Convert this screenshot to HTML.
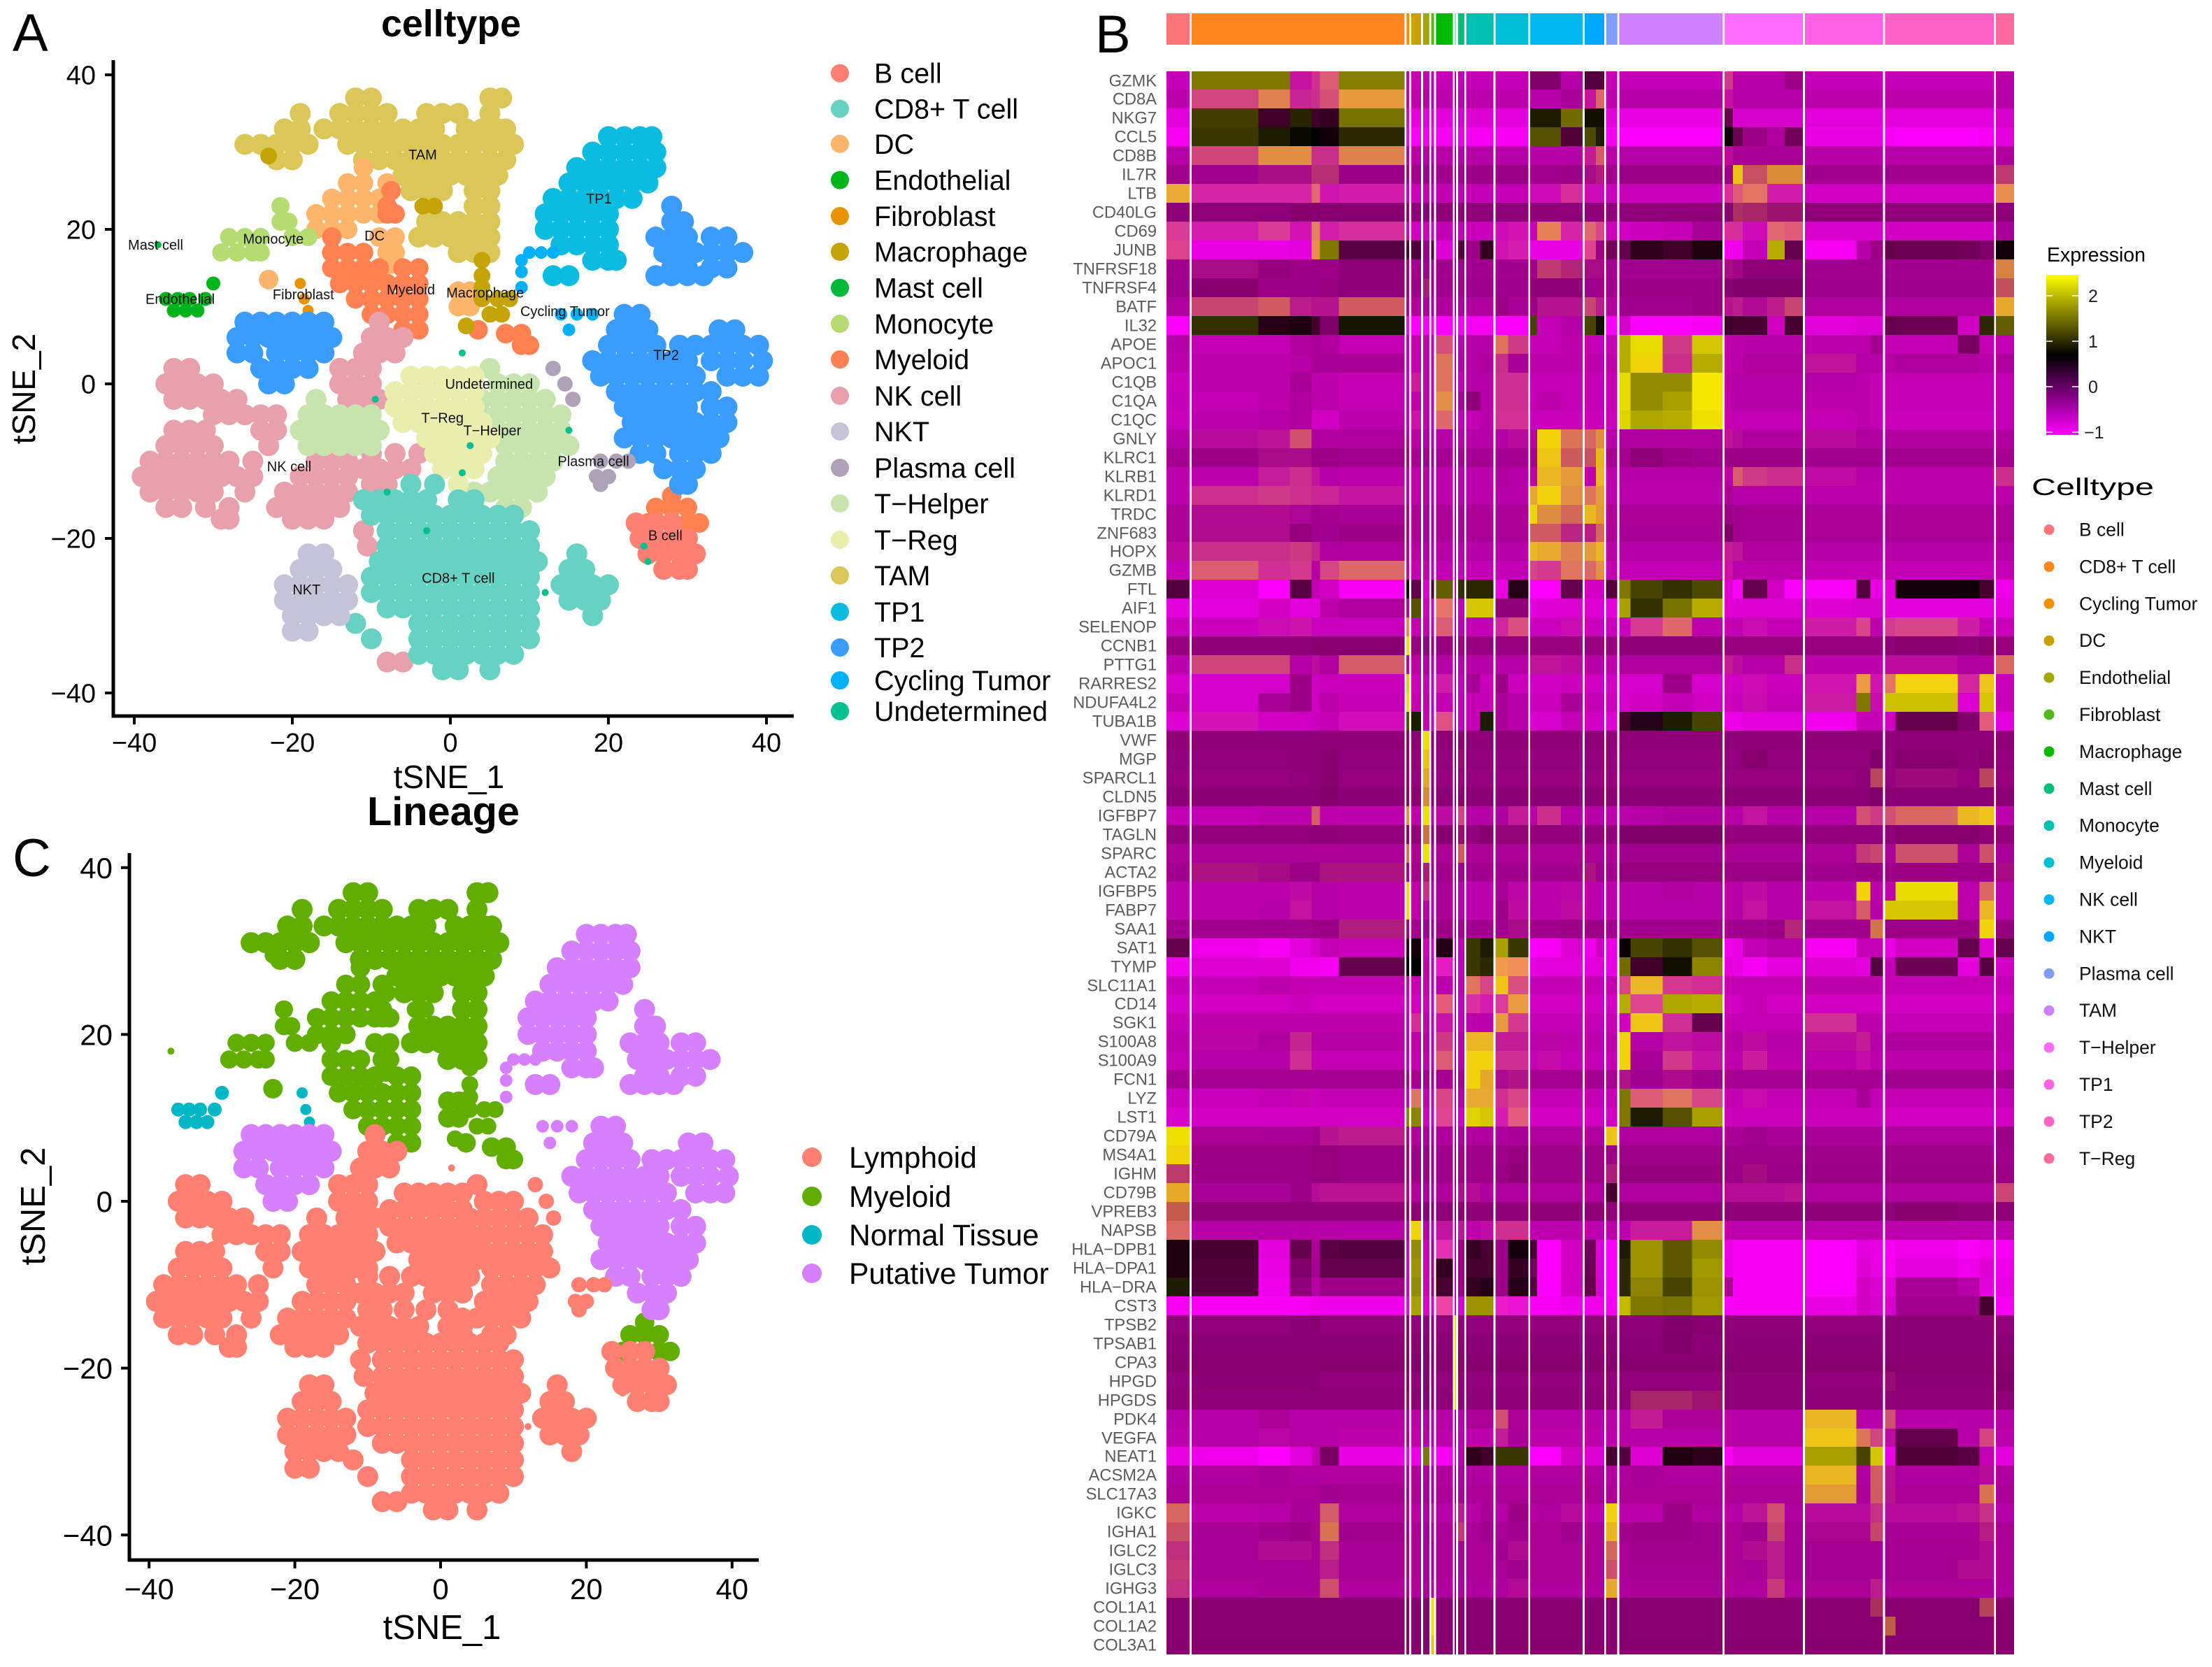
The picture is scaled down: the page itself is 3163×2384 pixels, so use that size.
<!DOCTYPE html>
<html lang="en">
<head>
<meta charset="utf-8">
<title>tSNE cell types, lineage and marker heatmap</title>
<style>
html,body{margin:0;padding:0;background:#fff}
svg{display:block}
text{font-family:"Liberation Sans",Arial,sans-serif}
</style>
</head>
<body>
<svg id="figure" xmlns="http://www.w3.org/2000/svg" width="3163" height="2384" viewBox="0 0 3163 2384">
<rect width="3163" height="2384" fill="#fff"/>
<text x="18" y="73" font-size="76">A</text>
<text x="1566" y="75" font-size="76">B</text>
<text x="18" y="1253" font-size="76">C</text>
<text x="645" y="52" font-size="53.7" font-weight="700" text-anchor="middle">celltype</text>
<text x="634" y="1180" font-size="57.7" font-weight="700" text-anchor="middle">Lineage</text>
<text x="642" y="1127" font-size="46" text-anchor="middle">tSNE_1</text>
<text transform="translate(50,556) rotate(-90)" font-size="46" text-anchor="middle">tSNE_2</text>
<text x="632" y="2344" font-size="49" text-anchor="middle">tSNE_1</text>
<text transform="translate(64,1725) rotate(-90)" font-size="49" text-anchor="middle">tSNE_2</text>
<text x="2927" y="374" font-size="28.5">Expression</text>
<defs>
<linearGradient id="exprGradient" x1="0" y1="0" x2="0" y2="1">
<stop offset="0" stop-color="#ffff00"/><stop offset="0.5" stop-color="#000000"/><stop offset="1" stop-color="#ff00ff"/>
</linearGradient>
</defs>
<rect x="2926" y="393" width="46" height="229" fill="url(#exprGradient)"/>
<text x="2905" y="708" font-size="34" textLength="175" lengthAdjust="spacingAndGlyphs">Celltype</text>
<g id="layer-a"></g>
<g id="layer-c"></g>
<g id="layer-hm"></g>
<g id="layer-axes"></g>
</svg>
<script>
/* ---------- tSNE data: each row is [tSNE_2, tSNE_1, tSNE_1, ...] ---------- */
const tamPoints=[[37,-12,-10,5,6.5],[35,-19,-14,-12,-10,-8,-3,-1,1,5],[33,-21,-19,-16,-14,-12,-10,-8,-6,-4,-2,2,4,6,7],[31,-26,-24,-22,-20,-18,-13,-11,-9,-7,-5,-3,-1,1,3,5,7,8],[29,-22,-20,-11,-9,-7,-5,-3,-1,1,3,5,7],[27,-6,-4,-2,0,2,4,6],[25,-5,-3,-1,3,5],[23,3,5],[21,-3,-1,1,3,5],[19,-4,-2,0,2,4,5],[17,1,3,5]];
const dcPoints=[[28,-11],[26,-13,-11,-8],[24,-15,-13,-11,-9],[22,-17,-15,-13,-11,-9],[20,-17,-15,-13],[19,-9,-7],[17,-8,-7],[15.5,-7.5],[13.5,-23],[12,1,2.5],[10,1,2.5]];
const myeloidPoints=[[25,-7.5],[23,-8],[22,-8,-7],[19,-15],[17,-15,-13,-11],[15,-15,-13,-11,-9,-6,-4],[13,-14,-12,-10,-8,-6,-4],[11,-12,-10,-8,-6,-4],[9,-10,-8,-6,-4],[7,-6,-4,3.5],[6.5,7,9],[5,9,10],[-14.5,28],[-16,26,28,30],[-18,25,30,31.5]];
const macrophagePoints=[[29.5,-23],[23,-3.5,-2],[16,4],[14,4],[12.5,4],[11,4,6,7.5],[9,5,6.5],[7.5,2]];
const monocytePoints=[[23,-21.5],[21,-21.5,-20.5],[19,-28,-26,-24,-20,-18],[17,-29,-27,-25,-24]];
const mastPoints=[[18,-37]];
const endothelialPoints=[[13,-30],[11,-36,-34.5,-33,-31],[9.5,-35,-33.5,-32]];
const fibroblastPoints=[[13,-19],[11,-18.5],[9.5,-18]];
const tp1Points=[[32,20,22,24,25.5],[30,18,20,22,24,26],[28,16,18,20,22,24,26],[26,15,17,19,21,23,25],[24,13,15,17,19,21,23],[22,12,14,16,18,20],[20,12,14,16,18,20],[18,14,16,18,20],[16,18,20,21],[14,13,15]];
const cyclingPoints=[[17,10,11.5,13],[16,9],[14.5,9],[12.5,9],[9,14,16,18],[7,15]];
const tp2Points=[[23,28],[21,28,29.5],[19,26,28,30,33,35],[17,27,29,31,33,35,37],[15,28,30,33,35],[14,26,28,30,32],[9,22,24],[7,21,23,25,34,36],[5,20,22,24,26,29,31,33,35,37,39],[3,18,20,22,24,26,28,30,33,35,37,39.5],[1,19,21,23,25,27,29,31,35,37,39],[-1,21,23,25,27,29,31,33],[-3,22,24,26,28,30,33,35],[-5,23,25,27,29,31,33,35],[-7,22,24,26,28,30,32,34],[-9,24,26,29,31,33],[-11,27,29,31],[-13,29,30]];
const tp2LeftPoints=[[8,-26,-24,-22,-20,-18,-16],[6,-27,-25,-23,-21,-19,-17,-15],[4,-27,-25,-22,-20,-18,-16],[2,-24,-22,-20,-18],[0,-23,-21]];
const nkPoints=[[8,-9],[6,-10,-8,-6],[4,-11,-9,-7],[2,-35,-33,-14,-12,-10],[0,-36,-34,-32,-30,-14,-12,-10],[-2,-35,-33,-31,-29,-27,-13,-11,-9],[-4,-30,-28,-26,-24,-22],[-6,-35,-33,-31,-24,-22],[-8,-36,-34,-32,-30,-23],[-9,-10,-7,-4],[-10,-38,-36,-34,-32,-30,-28,-25,-17,-15,-13],[-11,-11,-9,-7,-5],[-12,-39,-37,-35,-33,-31,-29,-27,-25,-19,-17,-15,-13],[-13,-10,-8],[-14,-38,-36,-34,-32,-30,-26,-21,-19,-17,-15,-13],[-16,-36,-34,-31,-28,-22,-20,-18,-16,-14],[-17.5,-29,-28,-20,-18,-16],[-19,-11],[-21,-10.5],[-36,-8,-6]];
const plasmaPoints=[[2,13],[0,14.5],[-2,15.5],[-10,19,21,22.5],[-12,18.5,20],[-13,19]];
const helperPoints=[[2,5],[0,-3,-1,6,8,10],[-2,-17,4,6,8,10,12],[-4,-18,-16,-14,-12,-10,4,6,8,10,12,14],[-6,-19,-17,-15,-13,-11,-9,6,8,10,12,14],[-8,-18,-16,-14,-12,-10,7,9,11,13,15],[-10,7,9,11,13],[-12,6,8,10,12],[-14,3,5,7,9,11],[-16,3,7,9]];
const tregPoints=[[1,-5,-3,-1,1,3],[-1,-7,-5,-3,-1,1,3],[-3,-7,-5,-3,-1,1,3],[-5,-6,-4,-2,0,2,4],[-7,-3,-1,1,3,5],[-9,-2,0,2,4],[-11,-1,1,3],[-13,1]];
const cd8Points=[[-13,-5,-2],[-15,-11,-9,-7,-5,-3,1,3],[-17,-10,-8,-6,-4,-2,0,2,4,6,8],[-19,-8,-6,-4,-2,0,2,4,6,8,10],[-21,-8,-6,-4,-2,0,2,4,6,8,10],[-22,16],[-23,-9,-7,-5,-3,-1,1,3,5,7,9,11],[-24,15,17],[-25,-10,-8,-6,-4,-2,0,2,4,6,8,10],[-26,14,16,18,20],[-27,-10,-8,-6,-4,-2,0,2,4,6,8,10],[-28,15,17,19],[-29,-8,-6,-4,-2,0,2,4,6,8,10],[-30,18],[-31,-12,-4,-2,0,2,4,6,8,10],[-33,-10,-4,-2,0,2,4,6,8,10],[-35,-4,-2,0,2,4,6,8],[-37,-1,1,5]];
const nktPoints=[[-22,-18,-16],[-24,-19,-17,-15],[-26,-21,-19,-17,-15,-13],[-28,-21,-19,-17,-15,-13],[-30,-20,-18,-16,-14],[-32,-20,-18]];
const bcellPoints=[[-18,23.5,26,28],[-20,24,26,28,30],[-22,25,27,29,31],[-24,27,29,30]];
const undeterminedPoints=[[4,1.5],[-2,-9.5],[-8,2.5],[-11.5,1.5],[-6,15],[-21,24.5],[-23,25],[-19,-3],[-27,12],[-14,-8]];

/* ---------- plotted series, labels and legends ---------- */
const scatterClusters=["TAM","DC","Myeloid","Macrophage","Monocyte","Mast cell","Endothelial","Fibroblast","TP1","Cycling Tumor","TP2","TP2","NK cell","Plasma cell","T-Helper","T-Reg","CD8+ T cell","NKT","B cell","Undetermined"];
const scatterPoints=[tamPoints,dcPoints,myeloidPoints,macrophagePoints,monocytePoints,mastPoints,endothelialPoints,fibroblastPoints,tp1Points,cyclingPoints,tp2Points,tp2LeftPoints,nkPoints,plasmaPoints,helperPoints,tregPoints,cd8Points,nktPoints,bcellPoints,undeterminedPoints];
const axisTicks=[-40,-20,0,20,40];
const celltypeLegend=["B cell","CD8+ T cell","DC","Endothelial","Fibroblast","Macrophage","Mast cell","Monocyte","Myeloid","NK cell","NKT","Plasma cell","T\u2212Helper","T\u2212Reg","TAM","TP1","TP2","Cycling Tumor","Undetermined"];
const lineageLegend=["Lymphoid","Myeloid","Normal Tissue","Putative Tumor"];
const clusterLabels=["TAM","TP1","Mast cell","Monocyte","DC","Endothelial","Fibroblast","Myeloid","Macrophage","Cycling Tumor","TP2","Undetermined","T\u2212Reg","T\u2212Helper","Plasma cell","NK cell","B cell","CD8+ T cell","NKT"];
const clusterLabelX=[-3.5,18.8,-37.3,-22.4,-9.6,-34.2,-18.6,-5,4.4,14.5,27.3,4.9,-1,5.3,18.1,-20.4,27.2,1,-18.2];
const clusterLabelY=[29.7,24,18,18.8,19.2,11,11.6,12.2,11.8,9.4,3.75,0,-4.4,-6,-10,-10.7,-19.6,-25.1,-26.6];

/* ---------- heatmap data ---------- */
const genes=["GZMK","CD8A","NKG7","CCL5","CD8B","IL7R","LTB","CD40LG","CD69","JUNB","TNFRSF18","TNFRSF4","BATF","IL32","APOE","APOC1","C1QB","C1QA","C1QC","GNLY","KLRC1","KLRB1","KLRD1","TRDC","ZNF683","HOPX","GZMB","FTL","AIF1","SELENOP","CCNB1","PTTG1","RARRES2","NDUFA4L2","TUBA1B","VWF","MGP","SPARCL1","CLDN5","IGFBP7","TAGLN","SPARC","ACTA2","IGFBP5","FABP7","SAA1","SAT1","TYMP","SLC11A1","CD14","SGK1","S100A8","S100A9","FCN1","LYZ","LST1","CD79A","MS4A1","IGHM","CD79B","VPREB3","NAPSB","HLA\u2212DPB1","HLA\u2212DPA1","HLA\u2212DRA","CST3","TPSB2","TPSAB1","CPA3","HPGD","HPGDS","PDK4","VEGFA","NEAT1","ACSM2A","SLC17A3","IGKC","IGHA1","IGLC2","IGLC3","IGHG3","COL1A1","COL1A2","COL3A1"];
/* cells per sub-column, and the annotation group each sub-column belongs to */
const columnCells=[33, 96,45,31,12,27,94, 4,14,9,4,24,2,9, 20,19,18,29, 10,34,31,16,12,16, 16,46,42,44, 12,14,35,25,26, 74,20,18, 15,89,31,21, 26];
const columnGroup=[0, 1,1,1,1,1,1, 2,3,4,5,6,7,8, 9,9,10,10, 11,11,11,12,12,13, 14,14,14,14, 15,15,15,15,15, 16,16,16, 17,17,17,17, 18];
const groupNames=["B cell","CD8+ T cell","Cycling Tumor","DC","Endothelial","Fibroblast","Macrophage","Mast cell minor","Mast cell","Monocyte","Myeloid","NK cell","NKT","Plasma cell","TAM","T-Helper","TP1","TP2","T-Reg"];
/* z-scores on the legend scale; a value v >= 3 is a sparse column: share (v-3) of its cells at top expression */
const expression=[
[-.62, 1.6,1.6,3.15,3.3,3.5,1.65, -.62,-.62,-.62,-.62,-.62,-.62,-.62, -.62,-.62,-.62,-.62, -.1,-.1,-.5,.2,.2,-.62, -.62,-.62,-.62,-.62, 3.35,-.5,-.5,-.5,-.3, -.62,-.62,-.62, -.62,-.62,-.62,-.62, -.5],
[-.55, 3.4,3.65,3.25,3.3,3.45,3.75, -.55,-.55,-.55,-.55,-.55,-.55,-.55, -.55,-.55,-.55,-.55, -.5,-.5,-.4,3.15,3.55,-.55, -.5,-.5,-.5,-.5, 3.15,-.5,-.5,-.5,-.5, -.55,-.55,-.55, -.55,-.55,-.55,-.55, -.5],
[-.85, 1.15,.35,.95,.35,.4,1.55, -.85,-.85,-.85,-.85,-.85,-.85,-.8, -.8,-.8,-.85,-.85, .9,.9,1.5,.8,.8,-.85, -.9,-.9,-.9,-.9, .1,-.75,-.75,-.75,-.75, -.85,-.85,-.85, -.85,-.85,-.85,-.85, -.75],
[-1, 1.1,.9,.75,.7,.6,1, -1,-1,-1,-1,-1,-1,-.95, -1,-1,-1,-1, 1.3,1.3,.25,1.25,.9,-1, -1.05,-1.05,-1.05,-1.05, .65,.05,-.3,-.45,0, -.9,-.9,-.9, -1,-1.05,-1.05,-1, -.85],
[-.5, 3.4,3.7,3.7,3.3,3.3,3.65, -.5,-.5,-.5,-.5,-.5,-.5,-.5, -.5,-.5,-.5,-.5, -.5,-.5,-.5,3.2,3.5,-.5, -.5,-.5,-.5,-.5, 3.1,-.4,-.4,-.4,-.4, -.5,-.5,-.5, -.5,-.5,-.5,-.5, -.45],
[-.35, -.35,3.12,3.12,3.3,3.3,-.3, -.35,-.35,-.35,-.35,-.35,-.35,-.35, -.3,-.3,-.3,-.3, -.35,-.35,-.3,3.1,3.2,-.35, -.3,-.3,-.3,-.3, -.3,3.9,3.45,3.7,3.7, -.35,-.35,-.35, -.35,-.35,-.35,-.35, 3.35],
[3.8, 3.25,3.25,3.25,3.55,3.15,3.2, -.65,-.65,-.65,-.6,-.6,-.6,-.6, -.6,-.6,-.6,-.6, 3.1,3.1,3.3,3.1,3.1,-.65, -.65,-.65,-.65,-.65, 3.3,3.5,3.6,3.2,3.2, -.7,-.7,-.7, -.7,-.7,-.7,-.7, 3.7],
[-.2, -.2,-.2,-.15,-.15,-.15,-.15, -.2,-.2,-.2,-.2,-.2,-.2,-.2, -.2,-.2,-.2,-.2, -.2,-.2,-.2,-.2,-.2,-.2, -.2,-.2,-.2,-.2, -.15,3.3,3.25,3.15,3.15, -.2,-.2,-.2, -.2,-.2,-.2,-.2, -.2],
[3.35, 3.2,3.35,3.15,3.65,3.2,3.3, -.7,-.7,-.7,-.7,-.6,-.6,-.6, -.65,-.65,3.1,3.15, -.65,3.65,3.25,3.55,3.4,-.65, -.7,-.65,-.6,-.4, 3.3,3.3,3.1,3.55,3.5, -.75,-.75,-.75, -.7,-.7,-.7,-.7, -.4],
[3.4, -.9,-.9,-.85,3.7,1.6,.15, .2,.2,-.3,.2,-.8,-.6,.2, -.3,.4,3.15,3.2, -.9,-.9,-.9,3.4,-.3,0, .1,.45,.35,.55, -.95,-.95,-.6,2,.1, -1,-.5,-.3, .1,.05,0,-.1, .6],
[-.35, 3.1,-.25,-.3,-.3,-.3,-.2, -.35,-.35,-.35,-.35,-.35,-.35,-.35, -.35,-.35,-.35,-.35, -.3,3.35,3.25,3.1,3.1,-.35, -.35,-.35,-.35,-.35, 3.1,3.05,-.2,-.2,-.2, -.35,-.35,-.35, -.35,-.35,-.35,-.35, 3.65],
[-.33, -.15,-.3,-.3,-.3,-.25,-.2, -.33,-.33,3.2,-.33,-.33,-.33,-.33, -.33,-.33,-.33,-.33, -.2,-.2,-.2,-.33,-.33,-.33, -.3,-.3,-.3,-.3, -.15,-.1,-.1,-.1,-.1, -.33,-.33,-.33, -.33,-.33,-.33,-.33, 3.45],
[-.45, 3.4,3.5,3.2,3.15,3.15,3.5, -.45,-.45,-.45,-.45,-.45,-.45,-.45, -.45,-.45,-.3,-.4, -.3,3.15,3.15,3.4,3.2,-.45, -.35,-.35,-.35,-.3, 3.15,3.2,3.1,3.2,3.4, -.45,-.45,-.45, -.45,-.45,-.45,-.45, 3.8],
[-1.05, 1.05,.5,.55,.3,-.1,.85, -1.05,-1.05,-1.05,-1.05,-1.05,-1.05,-1.05, -1,-1,-1.05,-1.05, 1.2,-.6,-.5,1.2,.8,-1.05, -.75,-1.05,-1.05,-1, .35,.3,.3,-.7,.3, -.85,-.8,-.8, .1,.05,-.7,1, 1.4],
[-.5, -.6,-.6,-.45,-.4,-.45,-.6, -.6,-.6,-.6,-.6,3.45,-.6,-.55, -.5,-.5,3.6,3.35, -.6,-.6,-.55,-.6,-.6,-.6, 2,2.35,3.35,2.2, -.55,-.55,-.5,-.5,-.5, -.55,-.55,-.35, -.6,-.6,-.05,-.6, -.6],
[-.55, -.55,-.55,-.5,-.4,-.4,-.4, -.6,-.6,-.6,-.6,3.6,-.55,-.5, -.5,-.45,3.3,-.4, -.55,-.55,-.55,-.55,-.55,-.55, 2,3.95,3.3,2, -.55,-.55,-.45,-.45,-.45, 3.15,-.5,-.5, -.5,-.45,-.45,-.5, -.45],
[-.65, -.55,-.55,-.4,-.55,-.55,-.6, -.65,3.2,-.6,-.6,3.6,-.6,-.6, -.5,-.5,3.3,3.3, -.6,-.6,-.6,-.6,-.6,-.6, 2.35,1.75,1.75,2.45, -.5,-.5,-.5,-.5,-.5, -.5,-.55,-.6, -.6,-.6,-.6,-.6, -.6],
[-.62, -.6,-.55,-.45,-.55,-.55,-.6, -.6,-.55,-.6,-.6,3.7,-.55,-.4, -.2,-.5,3.3,3.3, -.6,-.55,-.6,-.6,-.6,-.6, 2.35,1.75,1.9,2.45, -.55,-.5,-.5,-.5,-.5, -.55,-.55,-.6, -.6,-.6,-.6,-.6, -.6],
[-.65, -.55,-.5,-.45,-.7,-.7,-.55, -.6,3.15,-.6,-.6,3.55,-.6,-.6, -.6,-.5,3.3,3.3, -.65,-.65,-.65,-.65,-.65,-.65, 2.3,1.95,2,2.4, -.6,-.6,-.6,-.6,-.6, -.6,-.55,-.6, -.65,-.65,-.65,-.65, -.6],
[-.5, 3.1,3.15,3.45,-.45,-.45,-.45, -.5,-.5,-.5,-.5,-.5,-.5,-.5, -.5,-.5,-.5,3.1, -.5,3.95,3.6,3.55,3.7,-.5, -.45,-.45,-.45,-.45, 3.15,3.1,-.45,-.45,-.45, 3.1,-.45,-.45, -.45,-.45,-.45,-.45, -.45],
[-.38, -.3,3.1,3.1,-.3,-.3,-.35, -.38,-.38,-.38,-.38,-.38,-.38,-.38, -.38,-.38,-.38,-.38, -.35,3.9,3.5,3.45,3.85,-.38, -.38,-.2,-.3,-.35, -.3,-.3,-.3,-.3,-.3, -.35,-.35,-.35, -.35,-.35,-.35,-.35, -.38],
[-.55, -.55,3.2,3.3,3.15,-.5,-.55, -.55,-.55,-.55,-.55,-.55,-.55,-.55, -.55,-.55,-.45,-.5, -.55,3.85,3.75,-.55,3.85,-.55, -.5,-.5,-.5,-.5, -.5,3.5,3.35,3.3,3.3, 3.1,-.5,-.5, -.55,-.55,-.55,-.55, 3.3],
[-.55, 3.3,3.35,3.3,3.25,3.25,3.15, -.55,-.55,-.55,-.55,-.55,-.55,-.55, -.55,-.55,-.5,-.5, 3.8,3.95,3.7,3.6,3.75,-.55, -.55,-.55,-.55,-.55, -.4,-.5,-.5,-.5,-.5, -.55,-.55,-.55, -.55,-.55,-.55,-.55, -.55],
[-.42, 3.1,3.1,3.05,-.35,-.38,-.4, -.42,-.42,-.42,-.42,-.42,-.42,-.42, -.42,-.42,-.42,-.42, 3.95,3.7,3.55,3.85,3.75,-.42, -.42,-.42,-.42,-.42, -.3,-.35,-.38,-.38,-.38, -.42,-.42,-.42, -.42,-.42,-.42,-.42, -.42],
[-.42, 3.1,3.1,-.25,-.35,-.35,-.3, -.42,-.42,-.42,-.42,-.42,-.42,-.42, -.42,-.42,-.42,-.42, 3.5,3.5,3.25,3.2,3.55,-.42, -.4,-.4,-.4,-.4, -.1,-.35,-.38,-.38,-.38, -.42,-.42,-.42, -.42,-.42,-.42,-.42, -.42],
[3.1, 3.3,3.3,3.35,3.25,-.45,-.45, -.5,-.5,-.5,-.5,-.5,-.5,-.5, -.5,-.5,-.5,-.5, 3.85,3.8,3.65,3.75,3.85,-.5, -.5,-.5,-.5,-.5, 3.2,3.15,-.45,-.45,-.45, -.5,-.5,-.5, -.5,-.5,-.5,-.5, -.5],
[-.6, 3.5,3.3,3.35,-.5,3.4,3.55, -.6,-.6,-.6,-.6,-.6,-.6,-.6, -.6,-.6,-.6,-.6, 3.4,3.35,3.6,3.55,3.7,-.6, -.6,-.6,-.6,-.6, 3.15,-.55,-.55,-.55,-.55, -.6,-.6,-.6, -.6,-.6,-.6,-.6, -.6],
[.2, -.8,-1.05,.15,-.6,-.7,-1, .6,.1,-.8,.3,1.4,-.6,1.05, 1,1,-.9,.5, -1.05,-1.05,.1,-.7,-.7,.2, 1.6,1.2,1.05,1.25, -.8,-1.05,.1,-.7,-1.03, -1.03,.2,-.9, -.85,.6,.62,.3, -.95],
[-.85, -.85,-.7,-.85,-.85,-.55,-.45, -.5,1.3,-.7,-.7,3.6,-.6,-.6, 2.2,2.2,-.2,-.2, -.85,-.8,-.8,-.8,-.8,-.85, 1.9,1.05,1.55,2, -.8,-.8,-.8,-.8,-.8, -.8,-.75,-.75, -.85,-.85,-.85,-.85, -.85],
[-.65, -.65,3.1,3.15,-.65,-.65,-.65, 3.7,-.6,-.6,-.6,3.5,-.6,-.55, -.6,-.6,3.25,3.45, -.65,-.65,3.1,-.65,-.65,-.65, -.65,3.35,3.55,-.55, -.6,-.6,3.1,-.6,-.6, 3.2,3.4,-.55, 3.35,3.4,3.2,-.6, -.65],
[-.25, -.2,-.2,-.2,-.15,-.15,-.15, 2.4,-.25,-.25,-.25,-.25,-.25,-.25, -.25,-.25,-.25,-.25, -.25,-.25,-.25,-.25,-.25,-.25, -.2,-.2,-.2,-.2, -.25,-.25,-.25,-.25,-.25, -.25,-.25,-.25, -.2,-.15,-.2,-.15, -.25],
[-.55, 3.4,3.4,-.5,3.1,-.45,3.5, -.5,-.5,-.5,-.5,-.5,-.5,-.5, -.5,-.5,-.5,-.5, 3.15,3.15,3.1,-.5,-.5,-.55, -.45,-.45,-.45,-.45, 3.2,3.1,-.5,-.5,3.3, -.55,-.55,-.55, 3.1,3.1,-.45,-.45, 3.55],
[-.75, -.75,-.75,-.3,-.7,-.65,-.65, 2.3,-.65,-.65,-.65,3.2,-.6,-.6, -.4,-.65,-.3,-.65, -.7,-.7,-.65,-.7,-.7,-.7, -.75,-.75,-.3,-.75, -.7,-.7,3.1,-.65,-.65, 3.15,3.75,3.15, 3.6,3.95,3.25,3.9, -.65],
[-.6, -.75,-.4,-.3,-.7,-.55,-.6, 2.4,-.6,-.6,-.6,-.6,-.6,-.6, -.6,-.6,-.4,-.5, -.65,-.65,-.4,-.6,-.6,-.65, -.75,-.7,-.6,-.7, -.65,-.65,3.1,-.6,-.6, 3.2,1.6,3.1, 2.15,2.15,-.8,2.2, -.65],
[-.8, 3.15,-.7,-.7,-.65,-.6,3.1, 1.3,.9,-.65,-.65,3.45,-.6,-.6, -.6,.9,-.4,-.5, -.8,-.75,-.6,-.7,-.7,-.8, .3,.5,.9,1.2, -.9,-.9,-.85,-.85,-.85, -.95,-.6,-.6, -.7,.1,-.1,3.5, -.85],
[-.2, -.2,-.2,-.2,-.2,-.2,-.2, -.2,-.2,2.4,-.2,-.2,-.2,-.2, -.2,-.2,-.2,-.2, -.2,-.2,-.2,-.2,-.2,-.2, -.2,-.2,-.2,-.2, -.2,-.2,-.2,-.2,-.2, -.2,-.2,-.2, -.2,-.2,-.2,-.2, -.2],
[-.22, -.22,-.22,-.2,-.2,-.15,-.22, -.22,-.22,3.9,-.2,-.22,-.22,3.1, -.22,-.22,-.22,-.22, -.22,-.22,-.22,-.22,-.22,-.22, -.22,-.22,-.22,-.22, -.22,-.22,-.15,-.22,-.22, -.22,-.22,-.1, -.22,-.15,-.2,-.15, -.22],
[-.25, -.25,-.25,-.22,-.2,-.15,-.25, -.25,-.25,3.8,-.25,-.25,-.25,-.25, -.25,-.25,-.25,-.25, -.25,-.25,-.25,-.25,-.25,-.25, -.25,-.25,-.25,-.25, -.25,-.25,-.25,-.25,-.25, -.25,-.2,3.4, -.25,3.1,-.25,3.4, -.25],
[-.18, -.18,-.18,-.18,-.18,-.12,-.18, -.18,-.18,3.7,-.18,-.18,-.18,-.18, -.18,-.18,-.18,-.18, -.18,-.18,-.18,-.18,-.18,-.18, -.18,-.18,-.18,-.18, -.18,-.18,-.18,-.18,-.18, -.18,-.18,-.1, -.18,-.18,-.18,-.18, -.18],
[-.6, -.6,-.55,-.55,3.5,-.55,-.55, 3.7,-.55,2.4,-.55,3.1,-.5,3.4, -.5,-.5,-.45,3.2, -.55,3.3,-.5,-.5,-.5,-.55, -.55,-.5,-.45,-.45, -.5,-.5,3.15,-.5,-.5, -.5,3.45,3.35, 3.45,3.55,3.85,3.9, -.55],
[-.22, -.22,-.22,-.22,-.2,-.2,-.22, -.22,-.22,3.6,-.22,-.15,-.22,3.1, -.22,-.15,3.05,3.05, -.22,-.22,-.22,-.22,-.22,-.22, -.1,-.1,-.1,-.1, -.22,-.22,-.22,-.22,-.22, -.22,-.22,-.22, -.2,-.15,-.15,-.2, -.22],
[-.42, -.42,-.42,-.42,-.42,-.42,-.42, 3.6,-.42,2.4,-.42,-.42,-.42,3.5, -.42,-.42,-.42,-.42, -.42,-.42,-.42,-.42,-.42,-.42, -.35,-.35,-.35,-.35, -.4,-.4,-.4,-.4,-.4, -.42,3.35,3.4, -.42,3.45,-.42,3.45, -.4],
[-.35, 3.15,3.1,-.3,-.3,3.15,3.15, -.35,-.35,3.2,-.35,-.35,-.35,-.35, -.35,-.35,-.35,-.35, -.35,-.35,-.35,3.15,-.35,-.35, -.25,-.25,-.25,-.25, -.3,-.3,-.3,-.3,-.3, -.35,-.3,-.3, -.3,-.3,-.3,-.3, 3.1],
[-.55, -.55,-.55,3.1,-.5,-.5,-.55, 2.4,-.55,3.3,-.55,-.4,-.55,-.55, -.55,-.55,-.4,3.05, -.55,-.55,3.05,-.55,-.55,-.55, -.5,-.5,-.45,-.5, -.5,-.5,3.1,-.5,-.5, -.55,3.95,-.55, -.55,2.35,-.55,3.55, -.55],
[-.55, -.55,-.5,3.15,-.5,-.5,-.55, 2.4,-.55,-.55,-.55,-.4,-.55,-.55, -.55,-.55,-.3,3.1, -.55,-.55,3.1,-.55,-.55,-.55, -.5,-.5,-.5,-.5, -.5,-.5,3.15,-.5,-.5, 3.15,3.5,-.5, 2.2,2.2,-.55,3.85, -.55],
[-.35, -.35,-.35,-.35,-.3,-.3,3.2, -.35,-.35,-.35,-.35,-.3,-.35,-.35, -.35,-.35,-.35,3.1, -.35,-.35,-.3,-.3,-.3,-.35, -.35,-.35,-.35,-.35, -.35,-.35,-.35,-.3,3.25, -.35,-.35,3.6, -.3,-.3,-.3,3.95, -.25],
[.1, -.95,-1,-.85,-.75,-.6,-.65, .4,.6,-.7,-.7,.5,-.7,-.6, 1.1,.9,1.9,1.1, -1.05,-1,-.8,-.95,-.7,-.9, .65,1.2,1.05,1.3, -.95,-.9,-.6,-.5,-.5, -1,-.6,-.6, -.9,-.7,.1,-.8, .1],
[-.95, -.8,-.8,-.95,-.95,-1,.1, .7,.7,-.6,-.6,3.2,-.6,-.6, 1.1,1,3.75,3.7, -.9,-.85,-.85,-.85,-.85,-.9, 1.5,.35,.8,1.7, -.85,-.9,-1,-.85,-.85, -.8,-.85,.2, -.6,.05,-.85,.2, -.7],
[-.62, -.62,-.55,-.6,-.6,-.6,-.6, -.62,-.62,-.62,-.62,-.55,-.55,-.55, 3.6,3.4,3.9,3.45, -.6,-.6,-.6,-.6,-.6,-.6, 3.4,3.85,3.35,3.3, -.6,-.6,-.6,-.6,-.6, -.55,-.55,-.55, -.6,-.6,-.6,-.6, -.6],
[-.72, -.7,-.7,-.65,-.7,-.7,-.7, -.7,-.7,-.7,-.7,3.5,-.6,-.6, 3.3,3.2,3.35,3.75, -.7,-.7,-.7,-.7,-.7,-.7, 2,3.4,1.95,2, -.7,-.7,-.6,-.7,-.7, -.7,-.7,-.7, -.7,-.7,-.7,-.7, -.7],
[-.6, -.55,-.55,-.55,-.55,-.55,-.55, -.6,3.3,-.6,-.6,3.15,-.6,-.6, -.55,-.55,3.75,3.35, -.6,-.6,-.6,-.6,-.6,-.6, -.7,3.9,3.3,.1, -.6,-.6,-.6,-.6,-.6, 3.3,-.55,-.55, -.6,-.6,-.6,-.6, -.55],
[-.55, 3.05,-.45,3.25,-.5,-.5,-.5, -.55,-.55,-.55,-.55,3.35,-.5,-.5, 3.85,3.85,3.2,3.2, -.55,3.05,-.55,-.55,-.55,-.55, 3.95,-.5,3.15,3.1, -.5,-.5,3.1,-.5,-.5, 3.1,3.2,-.5, -.45,-.45,-.45,-.45, -.55],
[-.6, -.5,-.5,3.3,-.6,-.6,-.6, -.6,-.6,-.6,-.6,3.5,-.5,-.5, 3.95,3.95,3.3,3.3, -.6,3.1,-.6,-.6,-.6,-.6, 3.95,-.4,3.35,3.15, -.55,-.55,3.2,-.55,-.55, -.55,3.1,-.55, -.55,-.55,-.55,-.55, -.6],
[-.38, -.38,-.38,-.38,-.38,-.38,-.38, -.38,-.38,-.38,-.38,-.38,-.38,-.38, 3.95,3.8,3.1,3.15, -.38,-.38,-.38,-.38,-.38,-.38, 3.15,-.35,3.1,-.35, -.38,-.38,-.38,-.38,-.38, -.38,-.38,-.38, -.35,-.35,-.35,-.35, -.38],
[-.65, -.65,-.6,3.05,-.65,-.6,-.6, -.6,3.6,-.6,-.6,3.4,-.6,-.5, 3.8,3.8,3.3,3.4, -.6,-.6,-.6,-.6,-.6,-.6, 1.6,3.5,3.6,3.4, -.6,-.6,3.1,-.6,-.6, -.6,-.4,-.6, -.6,-.6,-.6,-.6, -.6],
[-.75, -.7,-.7,-.7,-.7,-.7,-.7, 1.7,1.7,-.7,-.7,3.4,-.7,-.7, 2.3,2.2,3.2,3.5, -.7,-.7,-.7,-.7,-.7,-.7, 1.6,.9,1.3,1.9, -.65,-.65,-.65,-.65,-.65, -.65,-.65,-.65, -.7,-.7,-.7,-.7, -.7],
[2.4, -.42,-.4,-.4,-.35,3.15,3.2, -.45,-.45,-.45,-.45,-.45,-.45,-.45, -.45,-.45,-.45,-.4, -.45,-.45,-.45,-.45,-.45,3.9, -.45,-.45,-.45,-.45, -.4,-.4,-.35,-.4,-.4, -.4,-.4,-.4, -.45,-.45,-.45,-.45, -.3],
[3.95, -.3,-.3,-.3,-.25,-.25,-.3, -.32,-.32,-.32,-.32,-.32,-.32,-.32, -.32,-.32,-.32,-.25, -.32,-.32,-.32,-.32,-.32,-.3, -.32,-.32,-.32,-.32, -.32,-.32,-.32,-.32,-.32, -.32,-.32,-.32, -.32,-.32,-.32,-.32, -.32],
[3.35, -.3,-.3,-.3,-.25,-.25,-.3, -.32,-.32,-.32,-.32,-.32,-.32,-.32, -.32,-.32,-.28,-.2, -.32,-.32,-.32,-.32,-.32,3.2, -.25,-.25,-.25,-.25, -.3,-.3,3.1,-.3,-.3, -.3,-.3,-.3, -.3,-.3,-.3,-.3, -.3],
[3.8, -.4,-.4,-.3,3.1,3.15,3.15, -.45,-.45,-.45,-.45,-.45,-.45,3.1, 3.1,-.45,-.45,-.45, -.45,-.45,-.45,-.45,-.45,.3, -.45,-.45,-.45,-.45, 3.1,3.1,3.1,3.1,3.15, -.45,-.45,-.45, -.45,-.45,-.45,-.45, 3.4],
[3.5, -.2,-.2,-.2,-.2,-.2,-.2, -.2,-.2,-.2,-.2,-.2,-.2,-.2, -.2,-.2,-.2,-.2, -.2,-.2,-.2,-.2,-.2,-.2, -.2,-.2,-.2,-.2, -.2,-.2,-.2,-.2,-.2, -.2,-.2,-.2, -.2,-.15,-.2,-.2, -.2],
[3.55, -.5,-.5,-.5,-.5,-.5,-.5, -.5,3.95,-.55,-.55,3.15,-.55,3.15, -.55,3.1,3.3,3.3, -.55,-.55,-.55,-.55,-.55,-.55, -.55,3.2,3.2,3.7, -.55,-.55,-.55,-.55,-.55, -.55,-.55,-.55, -.55,-.55,-.55,-.55, -.55],
[.55, .3,-.85,.1,-.4,.15,.2, -.7,1.75,-.7,-.4,3.3,-.7,-.3, .4,.3,-.3,.6, .3,-1.05,-.7,0,-.8,-1.05, .9,1.8,1.35,1.75, -.9,-1,-1,-1,-1, -1.05,-.85,-.9, -1,-.95,-1.03,-.95, -1],
[.55, .25,-.9,-.1,-.4,.1,.1, -.7,1.8,-.7,-.4,.4,-.7,-.3, .3,.3,-.3,.4, 0,-1.05,-.7,.05,-.8,-1.05, 1,1.8,1.35,1.85, -.9,-1,-1,-1,-1, -1.05,-.8,-.9, -1,-.85,-.95,-.8, -.95],
[.9, .2,-.95,-.2,-.5,-.3,-.3, -.7,1.75,-.7,-.3,.3,-.7,-.3, .4,.5,-.3,.5, .2,-1.05,-.7,.1,-.75,-1.05, 1,1.7,1.2,1.8, -.4,-1,-1,-1,-1, -1.05,-.7,-.8, -.85,-.4,-.5,-.85, -.9],
[-1, -1,-1,-1,-.95,-.95,-.95, -.9,1.9,-.8,-.8,3.4,-.7,-.8, 1.8,1.8,3.2,3.15, -1,-1,-.95,-.95,-.95,-1, 2.1,1.6,1.55,1.85, -1,-1,-1,-1,-1, -.9,-.7,-.75, -.75,-.35,-.35,.3, -1],
[-.22, -.22,-.22,-.18,-.15,-.22,-.22, -.22,-.22,-.22,-.22,-.22,2.4,-.22, -.22,-.22,-.22,-.22, -.22,-.22,-.22,-.22,-.22,-.22, -.2,-.2,-.12,-.15, -.2,-.2,-.2,-.2,-.2, -.22,-.22,-.22, -.18,-.18,-.18,-.18, -.22],
[-.18, -.18,-.18,-.18,-.18,-.18,-.18, -.18,-.18,-.18,-.18,-.18,2.4,-.18, -.18,-.18,-.18,-.18, -.18,-.18,-.18,-.18,-.18,-.18, -.18,-.18,-.1,-.18, -.18,-.18,-.18,-.18,-.18, -.18,-.18,-.18, -.18,-.18,-.18,-.18, -.18],
[-.15, -.15,-.15,-.15,-.15,-.15,-.15, -.15,-.15,-.15,-.15,-.15,2.4,-.15, -.15,-.15,-.15,-.15, -.15,-.15,-.15,-.15,-.15,-.15, -.15,-.15,-.15,-.15, -.15,-.15,-.15,-.15,-.15, -.15,-.15,-.15, -.15,-.15,-.15,-.15, -.15],
[-.22, -.17,-.17,-.17,-.17,-.22,-.22, -.22,-.22,-.15,-.22,-.22,2.4,-.22, -.22,-.22,-.22,-.22, -.22,-.22,-.22,-.22,-.22,-.22, -.22,-.22,-.22,-.22, -.2,-.2,-.2,-.2,-.2, -.22,-.22,-.22, 3.1,-.18,-.18,-.18, -.12],
[-.2, -.2,-.2,-.2,-.2,-.2,-.2, 3.1,-.2,-.2,-.2,-.2,2.4,-.2, -.2,-.2,-.2,-.2, -.2,-.2,-.2,-.2,-.2,-.2, -.2,3.25,3.25,3.15, -.2,-.2,-.2,-.2,-.2, -.2,-.2,-.2, -.2,-.2,-.2,-.2, -.2],
[-.5, -.5,-.42,-.5,-.5,-.5,-.5, -.5,-.5,-.5,-.5,-.5,-.5,-.5, -.42,-.42,3.45,-.42, -.5,-.5,-.5,-.5,-.5,-.5, -.5,3.2,-.42,-.42, -.5,-.5,-.5,-.5,-.5, 3.85,-.5,-.5, 3.45,-.5,-.5,-.5, -.5],
[-.55, -.5,3.05,-.5,-.5,-.5,-.55, -.45,-.55,-.55,-.55,-.55,-.55,-.55, -.55,-.55,3.2,-.4, -.55,-.55,-.55,-.55,-.55,-.55, -.5,-.5,-.5,-.5, -.5,-.5,-.5,-.5,-.5, 3.9,3.6,3.4, 3.1,.1,-.5,3.4, -.55],
[-.9, -.95,-1.05,-.85,-.6,-.05,-.9, -.9,-.9,1.6,-.9,-1,-.9,-.5, .45,.35,1.1,1.1, -1.05,-1.05,-.7,-.8,-.8,.3, .2,-.8,.55,.45, -1,-.85,-.85,-.85,-.85, 1.9,1.2,2.2, -.9,.25,.15,-.6, -.85],
[-.45, -.45,-.4,-.45,-.45,-.45,-.45, -.45,-.45,-.45,-.45,-.45,-.45,-.45, -.45,-.45,-.45,-.45, -.45,-.45,-.45,-.45,-.45,-.45, -.45,-.4,-.45,-.45, -.45,-.45,-.45,-.45,-.45, 3.85,-.45,3.5, 3.15,-.45,-.45,3.1, -.45],
[-.42, -.42,-.42,-.42,-.42,-.35,-.38, -.42,-.42,-.42,-.42,-.42,-.42,-.42, -.42,-.42,-.42,-.42, -.42,-.42,-.42,-.42,-.42,-.42, -.42,-.42,-.42,-.42, -.42,-.42,-.42,-.42,-.42, 3.75,-.42,3.5, 3.15,-.42,-.42,3.6, -.42],
[3.55, -.55,-.5,-.4,-.4,3.5,-.45, -.5,-.5,-.5,3.2,-.5,3.3,3.2, -.5,-.4,-.5,-.3, -.5,-.45,3.1,-.55,-.55,3.95, -.55,-.55,-.3,-.45, -.5,-.5,3.15,3.45,-.45, 3.1,3.1,3.3, 3.1,3.1,3.15,3.3, -.5],
[3.45, -.4,-.35,-.3,-.4,3.6,-.35, -.42,-.42,-.42,3.1,-.42,-.42,3.35, -.42,-.35,-.42,-.35, -.42,-.42,-.35,-.42,-.42,3.85, -.35,-.3,-.3,-.35, -.42,-.42,-.35,3.4,-.4, 3.05,3.05,3.4, -.4,-.4,-.4,3.2, -.42],
[3.3, -.4,3.1,3.1,-.4,3.3,-.4, -.42,-.42,-.42,-.42,-.42,-.42,-.42, -.42,-.42,-.35,3.1, -.42,-.42,-.42,-.42,-.42,3.55, -.42,-.35,-.35,-.35, -.42,-.42,3.1,3.2,-.4, -.38,-.38,-.38, -.38,-.38,-.38,3.1, -.42],
[3.35, -.4,-.4,-.4,-.4,3.2,-.4, -.42,-.42,-.42,-.42,-.42,-.42,-.42, -.42,-.42,-.42,-.35, -.42,-.42,-.42,-.42,-.42,3.45, -.42,-.38,-.38,-.38, -.42,-.42,-.4,3.2,-.4, -.38,-.38,-.38, -.38,-.38,3.1,3.1, -.42],
[3.3, -.45,-.4,-.4,-.4,3.45,-.45, -.45,-.45,-.45,3.1,-.45,-.45,-.45, -.45,-.45,-.45,3.1, -.45,-.45,-.45,-.45,-.45,3.8, -.45,-.4,-.4,-.4, -.45,-.45,-.45,3.35,-.45, -.42,-.42,3.2, -.42,-.42,-.42,-.42, -.45],
[-.15, -.15,-.15,-.15,-.15,-.15,-.15, -.15,-.15,-.15,2.4,-.15,-.15,-.15, -.15,-.15,-.15,-.15, -.15,-.15,-.15,-.15,-.15,-.15, -.15,-.15,-.15,-.15, -.15,-.15,-.15,-.15,-.15, -.15,-.15,3.3, -.15,-.15,-.15,3.4, -.15],
[-.15, -.15,-.15,-.15,-.15,-.15,-.15, -.15,-.15,-.15,2.4,-.15,-.15,-.15, -.15,-.15,-.15,-.15, -.15,-.15,-.15,-.15,-.15,-.15, -.15,-.15,-.15,-.15, -.15,-.15,-.15,-.15,-.15, -.15,-.15,-.15, 3.5,-.15,-.15,-.15, -.15],
[-.15, -.15,-.15,-.15,-.15,-.15,-.15, -.15,-.15,-.15,3.9,-.15,-.15,-.15, -.15,-.15,-.15,-.15, -.15,-.15,-.15,-.15,-.15,-.15, -.15,-.15,-.15,-.15, -.15,-.15,-.15,-.15,-.15, -.15,-.15,-.15, -.15,-.15,-.15,-.15, -.15]
];
const legendTicks=[2,1,0,-1];
const heatmapLegend=["B cell","CD8+ T cell","Cycling Tumor","DC","Endothelial","Fibroblast","Macrophage","Mast cell","Monocyte","Myeloid","NK cell","NKT","Plasma cell","TAM","T\u2212Helper","TP1","TP2","T\u2212Reg"];

/* ---------- styling, kept apart from the data ---------- */
const clusterColor={"TAM":"#DBC757","DC":"#FDB56C","Myeloid":"#FF8050","Macrophage":"#C4A406","Monocyte":"#B5DC70","Mast cell":"#00B83A","Endothelial":"#00B41C","Fibroblast":"#E89400","TP1":"#0ABCE0","Cycling Tumor":"#00B0F8","TP2":"#3A9CFF","NK cell":"#E8A1AC","NKT":"#C5C3D8","Plasma cell":"#AEA2B9","T-Helper":"#C8E4AE","T-Reg":"#E9EEAE","CD8+ T cell":"#66D2C2","B cell":"#FF8072","Undetermined":"#00C090"};
const legendColor=["#FF8072","#66D2C2","#FDB56C","#00B41C","#E89400","#C4A406","#00B83A","#B5DC70","#FF8050","#E8A1AC","#C5C3D8","#AEA2B9","#C8E4AE","#E9EEAE","#DBC757","#0ABCE0","#3A9CFF","#00B0F8","#00C090"];
const lineageColor={"Lymphoid":"#FF8072","Myeloid":"#61AE00","Normal Tissue":"#00B8C4","Putative Tumor":"#D680FF"};
const lineageOrder=["#FF8072","#61AE00","#00B8C4","#D680FF"];
const groupColor=["#FF7478","#FF851F","#F39200","#CBA100","#A3A800","#53B61A","#00BA00","#7CF0C0","#00C078","#00BFB0","#00BDD6","#00B7F0","#00A9FF","#7F9CFF","#CF80FF","#FF6CFF","#FF62E4","#FF64C4","#FF6A9E"];
const hmLegendColor=["#FF7478","#FF851F","#F39200","#CBA100","#A3A800","#53B61A","#00BA00","#00C078","#00BFB0","#00BDD6","#00B7F0","#00A9FF","#7F9CFF","#CF80FF","#FF6CFF","#FF62E4","#FF64C4","#FF6A9E"];
const NS="http://www.w3.org/2000/svg";
const baseRadius=15;
const tinyClusters={"Mast cell":5,"Undetermined":5,"Fibroblast":8,"Endothelial":10,"Plasma cell":11,"Cycling Tumor":9,"DC":14,"Myeloid":14,"Macrophage":12,"Monocyte":13};

function makeEl(tag,attrs,parent,txt){
  const el=document.createElementNS(NS,tag);
  for(const k in attrs){el.setAttribute(k,attrs[k]);}
  if(txt!==undefined){el.textContent=txt;}
  parent.appendChild(el);
  return el;
}
function lineageOf(cluster){
  if(cluster==="TP1"||cluster==="TP2"||cluster==="Cycling Tumor"){return "Putative Tumor";}
  if(cluster==="Endothelial"||cluster==="Fibroblast"){return "Normal Tissue";}
  if(["TAM","DC","Myeloid","Macrophage","Monocyte","Mast cell"].indexOf(cluster)>=0){return "Myeloid";}
  return "Lymphoid";
}

/* ---------- axis functions ---------- */
const axisA={xAt:v=>644+v*11.3,yAt:v=>549-v*11.05,left:162,right:1135,top:86,bottom:1024,tick:38,xLabelY:1075,yLabelX:137};
const axisC={xAt:v=>630+v*10.42,yAt:v=>1718-v*11.93,left:185,right:1085,top:1220,bottom:2231,tick:42,xLabelY:2287,yLabelX:161};

function drawPoints(layer,axis,colorFor){
  scatterPoints.forEach(function(rows,s){
    const cluster=scatterClusters[s];
    const r=tinyClusters[cluster]||baseRadius;
    rows.forEach(function(row){
      for(let i=1;i<row.length;i++){
        const c=document.createElementNS(NS,'circle');
        
        
        c.setAttribute('cx',axis.xAt(row[i]));
        c.setAttribute('cy',axis.yAt(row[0]));
        c.setAttribute('r',r);
        c.setAttribute('fill',colorFor(cluster));
        layer.appendChild(c);
      }
    });
  });
}
drawPoints(document.getElementById('layer-a'),axisA,function(cl){return clusterColor[cl];});
drawPoints(document.getElementById('layer-c'),axisC,function(cl){return lineageColor[lineageOf(cl)];});

const axesLayer=document.getElementById('layer-axes');
function drawAxes(axis,prefix){
  const yLine=makeEl('line',{x1:axis.left,x2:axis.left,y1:axis.top,y2:axis.bottom+2.5,stroke:'#000','stroke-width':5},axesLayer);
  
  
  const xLine=makeEl('line',{x1:axis.left-2.5,x2:axis.right,y1:axis.bottom,y2:axis.bottom,stroke:'#000','stroke-width':5},axesLayer);
  
  
  axisTicks.forEach(function(v){
    const label=v<0?'\u2212'+Math.abs(v):String(v);
    const px=axis.xAt(v),py=axis.yAt(v);
    const xt=makeEl('line',{x1:px,x2:px,y1:axis.bottom,y2:axis.bottom+12,stroke:'#000','stroke-width':4},axesLayer);
    
    
    const yt=makeEl('line',{x1:axis.left-12,x2:axis.left,y1:py,y2:py,stroke:'#000','stroke-width':4},axesLayer);
    
    
    const xl=makeEl('text',{x:px,y:axis.xLabelY,'font-size':axis.tick,'text-anchor':'middle'},axesLayer,label);
    
    
    const yl=makeEl('text',{x:axis.yLabelX,y:py+axis.tick*0.36,'font-size':axis.tick,'text-anchor':'end'},axesLayer,label);
    
    
  });
}
drawAxes(axisA,'panel-a');
drawAxes(axisC,'panel-c');

clusterLabels.forEach(function(name,i){
  const t=makeEl('text',{x:axisA.xAt(clusterLabelX[i]),y:axisA.yAt(clusterLabelY[i])+7,'font-size':20,'text-anchor':'middle',fill:'#111'},axesLayer,name);
  
  
});

/* legends */
const legendAY=[104.7,155.6,205.8,257.5,309,360,411.6,463,514,566,617,669,720,772,823,875,926,973,1017];
celltypeLegend.forEach(function(name,i){
  const d=makeEl('circle',{cx:1201,cy:legendAY[i],r:13,fill:legendColor[i]},axesLayer);
  
  
  const t=makeEl('text',{x:1250,y:legendAY[i]+14,'font-size':39.5},axesLayer,name);
  
  
});
const legendCY=[1655,1711,1766,1821];
lineageLegend.forEach(function(name,i){
  const d=makeEl('circle',{cx:1161,cy:legendCY[i],r:14,fill:lineageOrder[i]},axesLayer);
  
  
  const t=makeEl('text',{x:1214,y:legendCY[i]+15,'font-size':42.5},axesLayer,name);
  
  
});

/* ---------- heatmap ---------- */
const hmLeft=1668,hmRight=2880,hmTop=101.5,hmBottom=2366,gap=2.8;
const hmLayer=document.getElementById('layer-hm');
const totalCells=columnCells.reduce((a,b)=>a+b,0);
const gapCount=columnGroup[columnGroup.length-1];
const cellPx=(hmRight-hmLeft-gap*gapCount)/totalCells;
const columnX=[];
(function(){
  let run=0;
  columnCells.forEach(function(n,i){
    const x0=hmLeft+run*cellPx+columnGroup[i]*gap;
    run+=n;
    columnX.push([x0,hmLeft+run*cellPx+columnGroup[i]*gap]);
  });
})();
const rowPx=(hmBottom-hmTop)/genes.length;
function scaleColor(z){
  const lo=-1.08,hi=2.45,mid=(lo+hi)/2;
  const v=Math.max(lo,Math.min(hi,z));
  if(v<mid){
    const t=(mid-v)/(mid-lo);
    return [255*Math.pow(t,.85),0,255*Math.pow(t,1.1)];
  }
  const t=(v-mid)/(hi-mid);
  return [245*t,232*t,0];
}
function cellColor(v,rowBase){
  if(v<3){
    const c=scaleColor(v);
    return 'rgb('+c.map(Math.round).join(',')+')';
  }
  const share=v-3;
  const b=scaleColor(rowBase);
  const r=b[0]*(1-share)+244*share;
  const g=226*Math.pow(share,1.3);
  const bl=b[2]*(1-Math.pow(share,1.5));
  return 'rgb('+Math.round(r)+','+Math.round(g)+','+Math.round(bl)+')';
}
function rowBaseOf(row){
  const plain=row.filter(function(v){return v<0;});
  if(!plain.length){return -.5;}
  return plain.reduce(function(a,b){return a+b;},0)/plain.length;
}
expression.forEach(function(row,r){
  const y0=Math.round(hmTop+r*rowPx),y1=Math.round(hmTop+(r+1)*rowPx);
  const base=rowBaseOf(row);
  row.forEach(function(v,c){
    const cell=document.createElementNS(NS,'rect');
    
    
    cell.setAttribute('x',columnX[c][0].toFixed(1));
    cell.setAttribute('y',y0);
    cell.setAttribute('width',(columnX[c][1]-columnX[c][0]).toFixed(1));
    cell.setAttribute('height',y1-y0);
    cell.setAttribute('fill',cellColor(v,base));
    cell.setAttribute('shape-rendering','crispEdges');
    hmLayer.appendChild(cell);
  });
  const label=document.createElementNS(NS,'text');
  
  
  label.setAttribute('x',1654);
  label.setAttribute('y',y0+rowPx/2+8);
  label.setAttribute('font-size',23.7);
  label.setAttribute('text-anchor','end');
  label.setAttribute('fill','#5c5c5c');
  label.textContent=genes[r];
  hmLayer.appendChild(label);
});
groupNames.forEach(function(name,g){
  const first=columnGroup.indexOf(g),last=columnGroup.lastIndexOf(g);
  const seg=document.createElementNS(NS,'rect');
  
  
  seg.setAttribute('x',columnX[first][0].toFixed(1));
  seg.setAttribute('y',19);
  seg.setAttribute('width',(columnX[last][1]-columnX[first][0]).toFixed(1));
  seg.setAttribute('height',45);
  seg.setAttribute('fill',groupColor[g]);
  hmLayer.appendChild(seg);
});

/* expression colour-bar ticks and Celltype legend */
function legendY(v){return 553-v*65;}
legendTicks.forEach(function(v){
  const py=legendY(v);
  const a=makeEl('line',{x1:2926,x2:2935,y1:py,y2:py,stroke:'#fff','stroke-width':1.5},axesLayer);
  
  
  const b=makeEl('line',{x1:2963,x2:2972,y1:py,y2:py,stroke:'#fff','stroke-width':1.5},axesLayer);
  
  
  const t=makeEl('text',{x:v<0?2980:2986,y:py+9,'font-size':25,fill:'#222'},axesLayer,v<0?'\u22121':String(v));
  
  
});
heatmapLegend.forEach(function(name,i){
  const py=757.5+i*52.9;
  const d=makeEl('circle',{cx:2930,cy:py,r:7.5,fill:hmLegendColor[i]},axesLayer);
  
  
  const t=makeEl('text',{x:2973,y:py+9,'font-size':26.5,fill:'#111'},axesLayer,name);
  
  
});
</script>
</body>
</html>
